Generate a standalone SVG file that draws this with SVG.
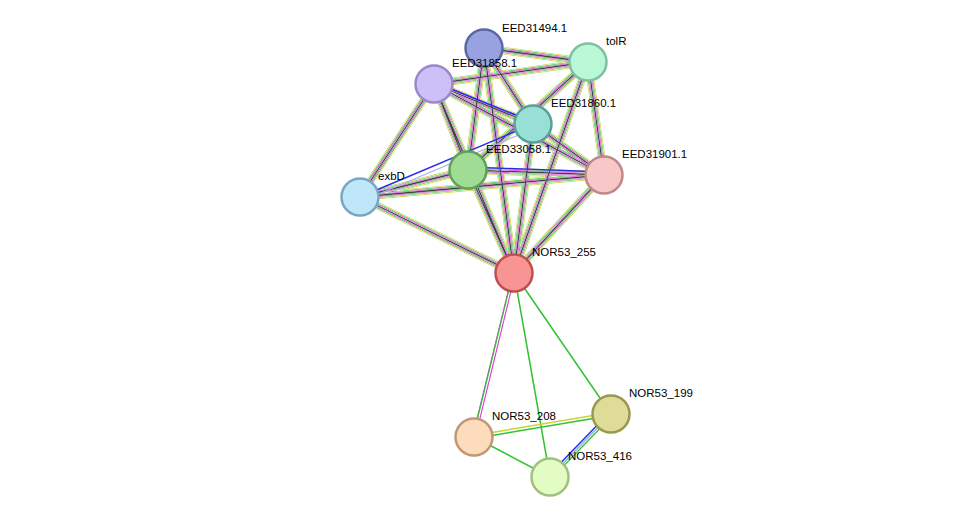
<svg xmlns="http://www.w3.org/2000/svg" width="975" height="523" viewBox="0 0 975 523">
<style>
.y{fill:none;stroke:#c8d43c;stroke-width:7.5}
.w1{fill:none;stroke:#fff;stroke-width:6.2}
.g{fill:none;stroke:#33c233;stroke-width:5.2}
.w2{fill:none;stroke:#fff;stroke-width:4}
.m{fill:none;stroke:#d43cd4;stroke-width:3.2}
.w3{fill:none;stroke:#fff;stroke-width:2}
.k{fill:none;stroke:#444;stroke-width:1.3}
.n circle{stroke-width:2.5}
text{font-family:"Liberation Sans",Arial,sans-serif;font-size:11.5px;fill:#000}
</style>
<defs>
<path id="full" d="M484,48L588,62M484,48L533,124M484,48L468,170M484,48L514,273M434,84L588,62M434,84L533,124M434,84L468,170M434,84L360,197M434,84L514,273M434,84L604,175M588,62L468,170M588,62L514,273M588,62L604,175M533,124L604,175M533,124L514,273M468,170L604,175M468,170L360,197M468,170L514,273M604,175L360,197M604,175L514,273M360,197L514,273"/>
</defs>
<rect width="975" height="523" fill="#fff"/>
<g id="connectors">
<use href="#full" class="y"/>
<use href="#full" class="w1"/>
<use href="#full" class="g"/>
<use href="#full" class="w2"/>
<use href="#full" class="m"/>
<use href="#full" class="w3"/>
<use href="#full" class="k"/>
<path d="M533,124L360,197" stroke="#2a2aee" stroke-width="1.5" fill="none"/>
<path d="M533,124L360,197" stroke="#aab0f0" stroke-width="1.2" fill="none" transform="translate(2,4)"/>
<path d="M434,84L533,124" stroke="#2a2aee" stroke-width="1.5" fill="none" transform="translate(0,-2)"/>
<path d="M468,170L604,175" stroke="#2a2aee" stroke-width="1.3" fill="none" transform="translate(0,-3)"/>
<path d="M514,273L474,437" stroke="#d43cd4" stroke-width="3.8" fill="none"/>
<path d="M514,273L474,437" stroke="#fff" stroke-width="1.6" fill="none"/>
<path d="M514,273L474,437" stroke="#33c233" stroke-width="1.2" fill="none" transform="translate(-1,0)"/>
<path d="M514,273L550,477M514,273L611,414M474,437L550,477" stroke="#33c233" stroke-width="1.5" fill="none"/>
<path d="M474,437L611,414" stroke="#c8d43c" stroke-width="1.5" fill="none" transform="translate(0,-1.5)"/>
<path d="M474,437L611,414" stroke="#33c233" stroke-width="1.5" fill="none" transform="translate(0,1.5)"/>
<path d="M611,414L550,477" stroke="#8ab8e8" stroke-width="1.5" fill="none"/>
<path d="M611,414L550,477" stroke="#2a2aee" stroke-width="1.5" fill="none" transform="translate(-1.5,-1.5)"/>
<path d="M611,414L550,477" stroke="#33c233" stroke-width="1.2" fill="none" transform="translate(1.5,1.5)"/>
</g>
<g id="EED31494.1" class="n"><circle cx="484" cy="48" r="18.5" fill="#98a2e0" stroke="#5a68a8"/><text x="502" y="32">EED31494.1</text></g>
<g id="tolR" class="n"><circle cx="588" cy="62" r="18.5" fill="#b8f8d6" stroke="#80c0a0"/><text x="606" y="45">tolR</text></g>
<g id="EED31858.1" class="n"><circle cx="434" cy="84" r="18.5" fill="#cdbff8" stroke="#9a88c8"/><text x="452" y="67">EED31858.1</text></g>
<g id="EED31860.1" class="n"><circle cx="533" cy="124" r="18.5" fill="#98e0d6" stroke="#5aa098"/><text x="551" y="107">EED31860.1</text></g>
<g id="EED33058.1" class="n"><circle cx="468" cy="170" r="18.5" fill="#a0dc94" stroke="#60a058"/><text x="486" y="153">EED33058.1</text></g>
<g id="EED31901.1" class="n"><circle cx="604" cy="175" r="18.5" fill="#f8c8c8" stroke="#c08888"/><text x="622" y="158">EED31901.1</text></g>
<g id="exbD" class="n"><circle cx="360" cy="197" r="18.5" fill="#c0e6fa" stroke="#78a8c0"/><text x="378" y="180">exbD</text></g>
<g id="NOR53_255" class="n"><circle cx="514" cy="273" r="18.5" fill="#f89494" stroke="#c05050"/><text x="532" y="256">NOR53_255</text></g>
<g id="NOR53_199" class="n"><circle cx="611" cy="414" r="18.5" fill="#dedc96" stroke="#9a9850"/><text x="629" y="397">NOR53_199</text></g>
<g id="NOR53_208" class="n"><circle cx="474" cy="437" r="18.5" fill="#fcdcbc" stroke="#c09878"/><text x="492" y="420">NOR53_208</text></g>
<g id="NOR53_416" class="n"><circle cx="550" cy="477" r="18.5" fill="#e2fcc4" stroke="#a0c080"/><text x="568" y="460">NOR53_416</text></g>
</svg>
